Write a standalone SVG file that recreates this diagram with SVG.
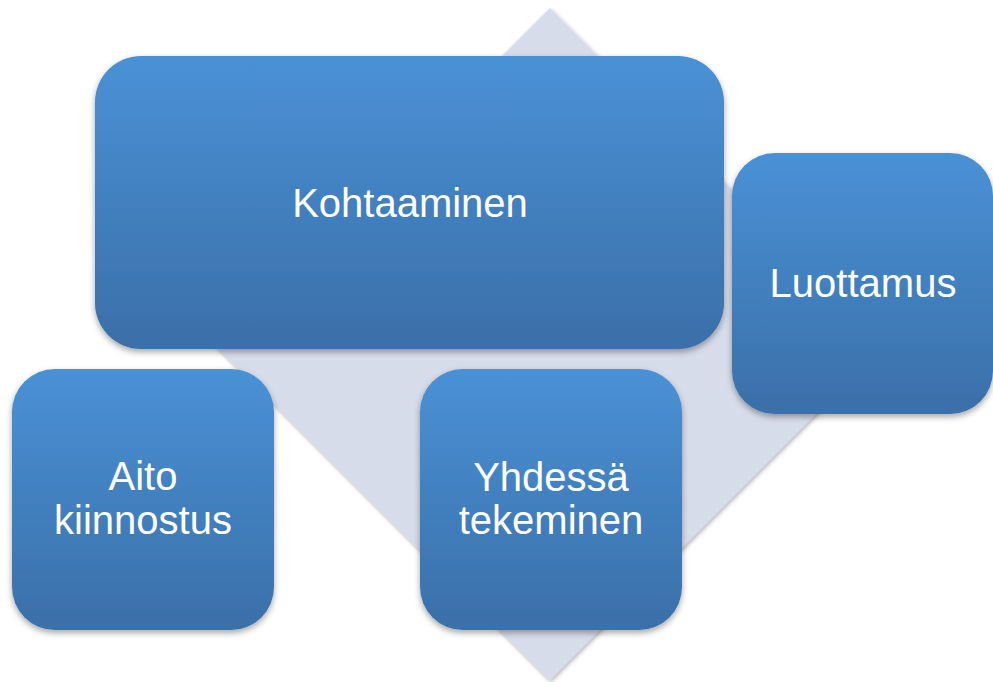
<svg xmlns="http://www.w3.org/2000/svg" width="993" height="682" viewBox="0 0 993 682">
<defs>
<linearGradient id="g" x1="0" y1="0" x2="0" y2="1">
<stop offset="0" stop-color="#4a91d6"/>
<stop offset="1" stop-color="#3a6fa8"/>
</linearGradient>
<filter id="sh" x="-10%" y="-10%" width="120%" height="130%">
<feDropShadow dx="0" dy="3" stdDeviation="3" flood-color="#000" flood-opacity="0.35"/>
</filter>
<filter id="sh2" x="-10%" y="-10%" width="120%" height="120%">
<feDropShadow dx="1" dy="2" stdDeviation="2" flood-color="#000" flood-opacity="0.3"/>
</filter>
</defs>
<style>
.box{fill:url(#g);filter:url(#sh);}
.t{fill:#fff;font-family:"Liberation Sans",Arial,sans-serif;font-size:40px;text-anchor:middle;}
</style>
<rect width="993" height="682" fill="#fff"/>
<g id="diamond">
<polygon points="550,8 886,344 550,680 214,344" fill="#d6dcea" filter="url(#sh2)"/>
</g>
<g id="connectors"/>
<g id="kohtaaminen">
<rect class="box" x="95" y="56" width="629" height="293" rx="46" ry="46"/>
<text class="t" x="410" y="217">Kohtaaminen</text>
</g>
<g id="luottamus">
<rect class="box" x="732" y="153" width="261" height="261" rx="43" ry="43"/>
<text class="t" x="863" y="297">Luottamus</text>
</g>
<g id="aito">
<rect class="box" x="12" y="369" width="262" height="261" rx="43" ry="43"/>
<text class="t" x="143" y="490">Aito</text>
<text class="t" x="143" y="534">kiinnostus</text>
</g>
<g id="yhdessa">
<rect class="box" x="420" y="369" width="262" height="261" rx="43" ry="43"/>
<text class="t" x="551" y="491">Yhdessä</text>
<text class="t" x="551" y="534">tekeminen</text>
</g>
</svg>
